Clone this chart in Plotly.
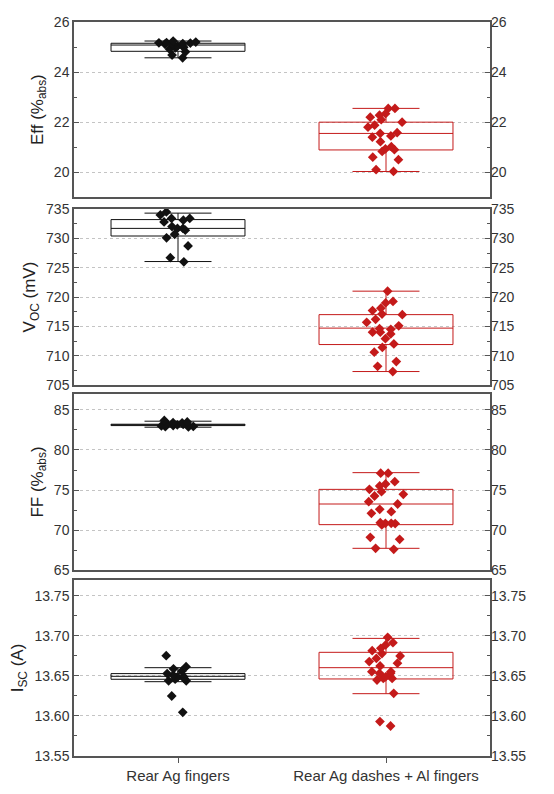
import plotly.graph_objects as go

cats = ["Rear Ag fingers", "Rear Ag dashes + Al fingers"]

# measured points
eff_ag = [25.24, 25.2, 25.18, 25.17, 25.16, 25.15, 25.14, 25.12, 25.1, 25.08,
          25.04, 24.99, 24.97, 24.92, 24.81, 24.68, 24.57]
eff_al = [22.55, 22.55, 22.34, 22.28, 22.2, 22.1, 22.0, 21.88, 21.8, 21.58, 21.55,
          21.45, 21.4, 21.22, 21.02, 20.93, 20.9, 20.83, 20.6, 20.5, 20.1, 20.03]
voc_ag = [734.5, 734.0, 733.4, 733.4, 733.1, 732.8, 732.0, 731.7, 731.7, 731.4,
          730.7, 730.1, 728.7, 726.7, 726.0]
voc_al = [721.0, 719.25, 719.0, 718.1, 717.7, 717.1, 717.0, 716.2, 715.7, 715.1, 714.6,
          714.5, 714.0, 714.0, 713.7, 712.9, 712.0, 711.4, 710.6, 709.0, 708.2, 707.3]
ff_ag = [83.7, 83.5, 83.42, 83.38, 83.3, 83.25, 83.2, 83.15, 83.1, 83.05, 83.0,
         82.95, 82.92, 82.88]
ff_al = [77.1, 77.1, 76.04, 75.75, 75.5, 75.08, 74.79, 74.46, 74.25, 73.54, 73.25, 72.58,
         72.29, 72.08, 70.92, 70.83, 70.83, 70.8, 70.63, 69.08, 68.83, 67.71, 67.58]
isc_ag = [13.6754, 13.6617, 13.659, 13.656, 13.653, 13.651, 13.649, 13.649, 13.647,
          13.646, 13.644, 13.644, 13.625, 13.6046]
isc_al = [13.6983, 13.6917, 13.6888, 13.6846, 13.6817, 13.678, 13.675, 13.672, 13.668,
          13.666, 13.6625, 13.6554, 13.6554, 13.6533, 13.6533, 13.649, 13.647, 13.647,
          13.645, 13.6284, 13.593, 13.5875]

# box stats: q1, median, q3, lower whisker, upper whisker
eff_ag_box = [24.83, 25.08, 25.15, 24.57, 25.24]
eff_al_box = [20.89, 21.55, 22.0, 20.03, 22.55]
voc_ag_box = [730.4, 731.7, 733.2, 726.05, 734.3]
voc_al_box = [711.9, 714.7, 717.0, 707.3, 721.0]
ff_ag_box = [83.05, 83.15, 83.22, 82.85, 83.6]
ff_al_box = [70.67, 73.25, 75.08, 67.71, 77.17]
isc_ag_box = [13.6459, 13.6496, 13.653, 13.6429, 13.6604]
isc_al_box = [13.6463, 13.6604, 13.6796, 13.6279, 13.697]

BLACK = "#111111"
RED = "#C41A1A"
FRAME = "#555555"
FONT = "Liberation Sans, Arial, sans-serif"

panels = [
    # title, ag pts, al pts, ag box, al box, range, dtick, minor, fmt, domain
    ("Eff (%<sub>abs</sub>)", eff_ag, eff_al, eff_ag_box, eff_al_box, [19, 26], 2, 1, "d", [0.7612, 1.0]),
    ("V<sub>OC</sub> (mV)", voc_ag, voc_al, voc_ag_box, voc_al_box, [705, 735], 5, 2.5, "d", [0.5054, 0.7452]),
    ("FF (%<sub>abs</sub>)", ff_ag, ff_al, ff_ag_box, ff_al_box, [65, 87], 5, 2.5, "d", [0.2534, 0.4932]),
    ("I<sub>SC</sub> (A)", isc_ag, isc_al, isc_ag_box, isc_al_box, [13.55, 13.77], 0.05, 0.025, ".2f", [0.0, 0.2398]),
]

fig = go.Figure()
layout = {}

for i, (title, ag, al, ag_box, al_box, rng, dt, mdt, fmt, dom) in enumerate(panels):
    n = i + 1
    xa = "x" if n == 1 else f"x{n}"
    ya = "y" if n == 1 else f"y{n}"
    yr = f"y{n + 4}"

    for cat, pts, st, col in [(cats[0], ag, ag_box, BLACK), (cats[1], al, al_box, RED)]:
        fig.add_trace(go.Box(
            x=[cat], q1=[st[0]], median=[st[1]], q3=[st[2]],
            lowerfence=[st[3]], upperfence=[st[4]],
            line=dict(color=col, width=1), fillcolor="rgba(0,0,0,0)",
            whiskerwidth=0.5, boxpoints=False, showlegend=False,
            xaxis=xa, yaxis=ya))
        fig.add_trace(go.Box(
            x=[cat] * len(pts), y=pts, boxpoints="all", jitter=0.3, pointpos=0,
            marker=dict(symbol="diamond", size=7.5, color=col),
            line=dict(width=0, color="rgba(0,0,0,0)"), fillcolor="rgba(0,0,0,0)",
            showlegend=False, xaxis=xa, yaxis=ya))
    # dummy trace so the right-hand axis is drawn
    fig.add_trace(go.Scatter(x=[], y=[], xaxis=xa, yaxis=yr, showlegend=False,
                             hoverinfo="skip"))

    layout["xaxis" if n == 1 else f"xaxis{n}"] = dict(
        domain=[0, 1], anchor=ya, type="category", categoryorder="array",
        categoryarray=cats, range=[-0.5, 1.5],
        showline=True, linecolor=FRAME, linewidth=1.5, mirror=True,
        showgrid=False, zeroline=False,
        showticklabels=(n == 4), ticks="outside" if n == 4 else "",
        ticklen=5, tickcolor=FRAME,
        tickfont=dict(family=FONT, size=15, color="#333333"))
    yax = dict(
        domain=dom, anchor=xa, range=rng, dtick=dt, tick0=rng[0] if fmt != "d" else 0,
        tickformat=fmt, showline=True, linecolor=FRAME, linewidth=1.5, mirror=True,
        ticks="inside", ticklen=5, tickcolor=FRAME,
        minor=dict(dtick=mdt, ticks="inside", ticklen=3, tickcolor=FRAME, showgrid=False),
        showgrid=True, gridcolor="#c4c4c4", griddash="dot", gridwidth=1, zeroline=False,
        tickfont=dict(family=FONT, size=14, color="#333333"), automargin=False,
        title=dict(text=title, standoff=6, font=dict(family=FONT, size=17, color="#222222")))
    layout["yaxis" if n == 1 else f"yaxis{n}"] = yax
    layout[f"yaxis{n + 4}"] = dict(
        overlaying=ya, anchor=xa, side="right", range=rng, dtick=dt,
        tick0=rng[0] if fmt != "d" else 0, tickformat=fmt,
        ticks="inside", ticklen=5, tickcolor=FRAME,
        minor=dict(dtick=mdt, ticks="inside", ticklen=3, tickcolor=FRAME, showgrid=False),
        showgrid=False, zeroline=False, showline=False, automargin=False,
        tickfont=dict(family=FONT, size=14, color="#333333"))

# the page body adds an 8 px offset, so the margins are shifted to compensate
fig.update_layout(
    **layout,
    width=554, height=794,
    margin=dict(l=66, r=72, t=14, b=46),
    boxmode="overlay", boxgap=0.356, boxgroupgap=0,
    paper_bgcolor="white", plot_bgcolor="white",
    font=dict(family=FONT, size=13, color="#333333"),
)

fig.write_html("out.html")
